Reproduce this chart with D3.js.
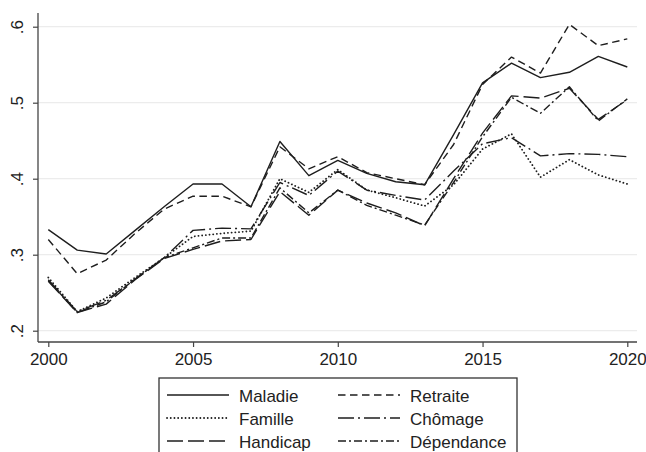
<!DOCTYPE html>
<html>
<head>
<meta charset="utf-8">
<script src="https://cdn.jsdelivr.net/npm/d3@7/dist/d3.min.js"></script>
<style>
  html, body { margin: 0; padding: 0; background: #fff; }
  svg { display: block; font-family: "Liberation Sans", Arial, sans-serif; }
</style>
</head>
<body>
<svg id="chart" width="646" height="452"></svg>
<script>
// ---- Data ----
const years = [2000,2001,2002,2003,2004,2005,2006,2007,2008,2009,2010,2011,2012,2013,2014,2015,2016,2017,2018,2019,2020];
const maladie    = [.333,.306,.301,.332,.363,.393,.393,.363,.449,.404,.424,.407,.396,.392,.458,.526,.552,.533,.540,.561,.547];
const retraite   = [.320,.275,.293,.328,.360,.377,.377,.363,.442,.413,.429,.408,.400,.392,.445,.524,.560,.539,.603,.575,.584];
const famille    = [.270,.225,.243,.270,.296,.324,.328,.331,.400,.382,.412,.385,.375,.364,.392,.439,.459,.402,.425,.405,.393];
const chomage    = [.267,.225,.240,.268,.296,.332,.335,.334,.395,.378,.410,.385,.378,.372,.410,.446,.454,.430,.433,.432,.429];
const handicap   = [.265,.224,.235,.267,.295,.307,.318,.320,.383,.352,.385,.368,.355,.338,.400,.460,.509,.506,.519,.478,.504];
const dependance = [.266,.224,.238,.268,.296,.309,.322,.322,.388,.355,.385,.365,.352,.339,.395,.455,.507,.486,.521,.476,.505];
const seriesNames = ["Maladie","Retraite","Famille","Chômage","Handicap","Dépendance"];
const seriesValues = [maladie, retraite, famille, chomage, handicap, dependance];
const xTicks = [2000,2005,2010,2015,2020];
const yTicks = [.2,.3,.4,.5,.6];

// ---- Styles ----
const dashes = ["none","7.5,4.5","1.4,2.6","16,4,2,4","16,5","8,3,2,3"];
const ink = "#1e1e1e";

const svg = d3.select("#chart");
const x = d3.scaleLinear().domain([2000,2020]).range([48.3,627.3]);
const y = d3.scaleLinear().domain([0.2,0.6]).range([330.7,26.7]);
const plotL = 38, plotR = 637, plotT = 13, plotB = 342;

// gridlines
svg.append("g").selectAll("line").data(yTicks).join("line")
  .attr("x1", plotL).attr("x2", plotR)
  .attr("y1", d => y(d)).attr("y2", d => y(d))
  .attr("stroke", "#ececec").attr("stroke-width", 1.3);

// axes
const fmt = d => d3.format(".1f")(d).replace(/^0/, "");
const yAxis = svg.append("g").attr("transform", `translate(${plotL},0)`)
  .call(d3.axisLeft(y).tickValues(yTicks).tickSize(5).tickPadding(10).tickFormat(fmt));
yAxis.select(".domain").remove();
yAxis.selectAll(".tick line").attr("stroke", "#444").attr("stroke-width", 1.2);
yAxis.selectAll(".tick text")
  .attr("font-size", 17).attr("fill", "#222")
  .attr("font-family", "'Liberation Sans', Arial, sans-serif")
  .attr("text-anchor", "middle").attr("dy", null)
  .attr("transform", "rotate(-90)")
  .attr("x", 0).attr("y", -19).attr("dominant-baseline", "middle");

const xAxis = svg.append("g").attr("transform", `translate(0,${plotB})`)
  .call(d3.axisBottom(x).tickValues(xTicks).tickSize(5).tickPadding(6).tickFormat(d3.format("d")));
xAxis.select(".domain").remove();
xAxis.selectAll(".tick line").attr("stroke", "#444").attr("stroke-width", 1.2);
xAxis.selectAll(".tick text")
  .attr("font-size", 17).attr("fill", "#222")
  .attr("font-family", "'Liberation Sans', Arial, sans-serif");

svg.append("line").attr("x1", plotL).attr("x2", plotL).attr("y1", plotT).attr("y2", plotB)
  .attr("stroke", "#444").attr("stroke-width", 1.3);
svg.append("line").attr("x1", plotL).attr("x2", plotR).attr("y1", plotB).attr("y2", plotB)
  .attr("stroke", "#444").attr("stroke-width", 1.3);

// lines
const line = d3.line().x((d,i) => x(years[i])).y(d => y(d));
seriesValues.forEach((vals, k) => {
  svg.append("path").datum(vals)
    .attr("d", line)
    .attr("fill", "none")
    .attr("stroke", ink)
    .attr("stroke-width", k === 2 ? 1.8 : 1.4)
    .attr("stroke-linejoin", "round")
    .attr("stroke-linecap", k === 2 ? "round" : "butt")
    .attr("stroke-dasharray", k === 2 ? "0.1,3.6" : dashes[k]);
});

// legend
const leg = svg.append("g");
leg.append("rect").attr("x", 159).attr("y", 378).attr("width", 358).attr("height", 90)
  .attr("fill", "#fff").attr("stroke", "#333").attr("stroke-width", 1.3);
const rowY = [395, 418, 441];
seriesNames.forEach((name, k) => {
  const col = k % 2, row = Math.floor(k / 2);
  const x0 = col === 0 ? 167 : 338;
  const yy = rowY[row];
  leg.append("line").attr("x1", x0).attr("x2", x0 + 62).attr("y1", yy).attr("y2", yy)
    .attr("stroke", ink)
    .attr("stroke-width", k === 2 ? 1.8 : 1.4)
    .attr("stroke-linecap", k === 2 ? "round" : "butt")
    .attr("stroke-dasharray", k === 2 ? "0.1,3.6" : dashes[k]);
  leg.append("text").attr("x", x0 + 72).attr("y", yy + 6.5)
    .attr("font-size", 17).attr("fill", "#222").text(name);
});
</script>
</body>
</html>
